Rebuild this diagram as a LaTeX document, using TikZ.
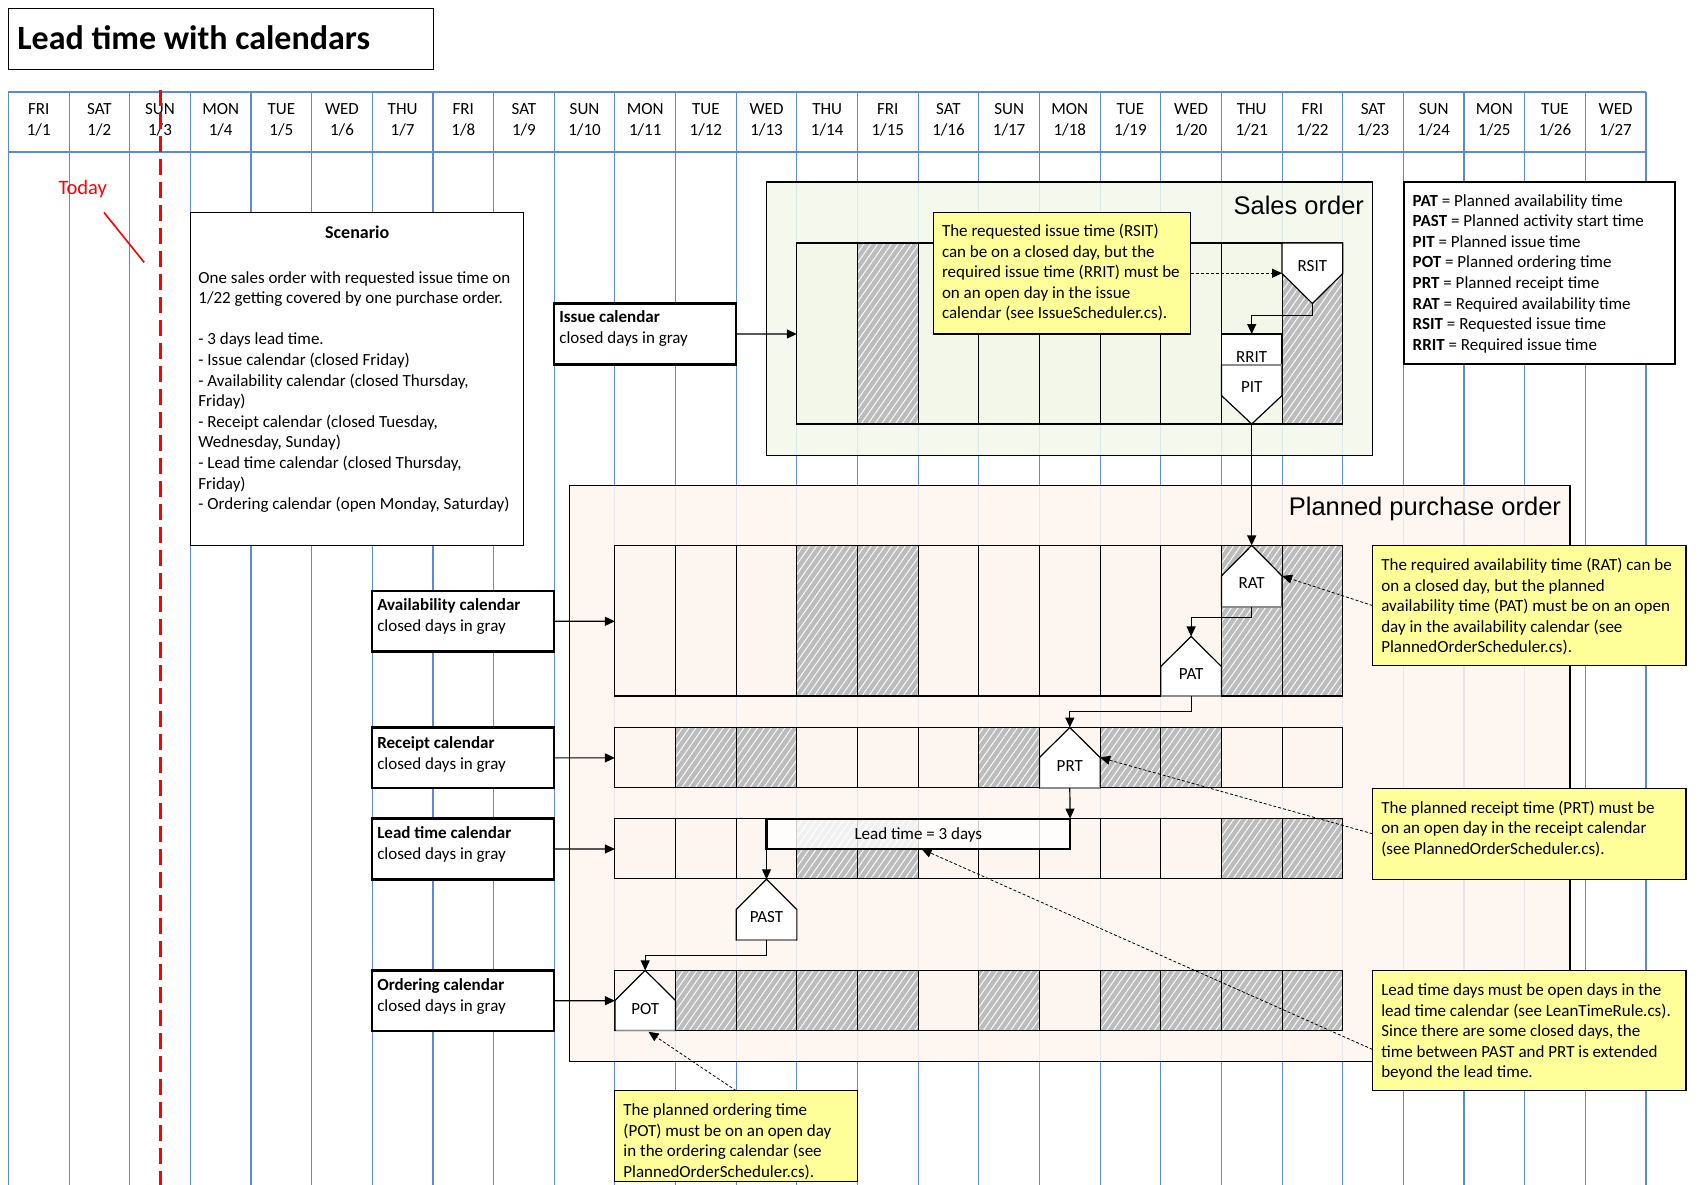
\documentclass[tikz,border=0pt]{standalone}
\usepackage{fontspec}
\setmainfont{Carlito}
\newfontfamily\arialfont{Liberation Sans}
\usetikzlibrary{arrows.meta,patterns.meta}
\definecolor{gridblue}{RGB}{91,139,214}
\definecolor{noteyellow}{RGB}{255,255,153}
\definecolor{hatchgray}{RGB}{188,188,188}
\definecolor{salesgreen}{RGB}{242,247,234}
\definecolor{pofill}{RGB}{253,245,239}
\newcommand\bodyfs{\fontsize{17}{20.6}\selectfont}
\newcommand\boxfs{\fontsize{17}{21}\selectfont}
\newcommand\calrow[6]{%
  \foreach \i in {#4,...,#5} {\fill[#3] ({8.4+60.65*\i},#1) rectangle ({8.4+60.65*(\i+1)},#2);}
  \foreach \i in {#6} {\path[closedcell] ({8.4+60.65*\i},#1) rectangle ({8.4+60.65*(\i+1)},#2);}
  \foreach \i in {#4,...,#5} {\draw[cellline] ({8.4+60.65*\i},#1) rectangle ({8.4+60.65*(\i+1)},#2);}
}
\begin{document}
\begin{tikzpicture}[x=1pt,y=-1pt,
  every node/.style={inner sep=0pt, outer sep=0pt, font=\bodyfs},
  gridline/.style={draw=gridblue, line width=1.1pt},
  cellline/.style={draw=black, line width=1.1pt},
  closedcell/.style={preaction={fill=hatchgray}, pattern={Lines[angle=55,distance=5.6pt,line width=1pt]}, pattern color=white!92!hatchgray},
  conn/.style={draw=black, line width=1.2pt, -{Triangle[length=10pt,width=9pt]}},
  annot/.style={draw=black, line width=0.8pt, dash pattern=on 3pt off 2pt, -{Triangle[length=10pt,width=9pt]}},
  labelbox/.style={draw=black, line width=2.4pt, fill=white, anchor=north west, minimum width=182.1, minimum height=60.7},
  notebox/.style={draw=black, line width=1.2pt, fill=noteyellow, anchor=north west},
  plainbox/.style={draw=black, line width=1.3pt, fill=white, anchor=north west},
  txt/.style={align=left, anchor=north west},
  btxt/.style={align=left, anchor=north west, font=\boxfs},
  tshape/.style={fill=white, draw=black, line width=1.2pt, line join=miter},
  shadowline/.style={draw=black!45, line width=1.8pt},
  framelabel/.style={font=\arialfont\fontsize{25.5}{30}\selectfont, anchor=east}
]
\useasboundingbox (0,0) rectangle (1700,1185);

% ---------- grid ----------
\foreach \i in {0,...,27} { \draw[gridline] ({8.4+60.65*\i},92) -- ({8.4+60.65*\i},1185); }
\draw[gridline] (8.4,92) -- (1646,92);
\draw[gridline] (8.4,152) -- (1646,152);
\foreach \n [count=\i from 0] in {FRI,SAT,SUN,MON,TUE,WED,THU,FRI,SAT,SUN,MON,TUE,WED,THU,FRI,SAT,SUN,MON,TUE,WED,THU,FRI,SAT,SUN,MON,TUE,WED}{
  \pgfmathtruncatemacro\dd{\i+1}
  \node[anchor=base] (day\i) at ({8.4+60.65*(\i+0.5)},115) {\n};
  \node[anchor=base] (date\i) at ({8.4+60.65*(\i+0.5)},135.5) {1/\dd};
}

% ---------- title ----------
\node[plainbox, minimum width=425, minimum height=60.7] (titlebox) at (8.7,8.7) {};
\node[anchor=base west, font=\fontsize{34}{40}\selectfont\bfseries] (title) at (17.3,49.5) {Lead time with calendars};

% ---------- today ----------
\coordinate (todaytop) at (160.1,90);
\coordinate (todaybot) at (160.1,1185);
\draw[red, line width=3pt, dash pattern=on 16pt off 7pt] (todaytop) -- (todaybot);
\node[anchor=base west, text=red, font=\fontsize{20.5}{24}\selectfont] (today) at (58.5,194.5) {Today};
\coordinate (tl1) at (104,212.5);
\coordinate (tl2) at (144.2,262.4);
\draw[red, line width=1.6pt] (tl1) -- (tl2);

% ---------- scenario ----------
\node[plainbox, minimum width=332.9, minimum height=332.9] (scen) at (190.8,212.5) {};
\node[anchor=base, font=\fontsize{18}{22}\selectfont\bfseries] (scent) at (357.25,239) {Scenario};
\node[txt] (scenb) at (198.4,268.7) {\strut One sales order with requested issue time on\\1/22 getting covered by one purchase order.\\[20.6pt]- 3 days lead time.\\- Issue calendar (closed Friday)\\- Availability calendar (closed Thursday,\\Friday)\\- Receipt calendar (closed Tuesday,\\Wednesday, Sunday)\\- Lead time calendar (closed Thursday,\\Friday)\\- Ordering calendar (open Monday, Saturday)};

% ---------- legend ----------
\node[plainbox, minimum width=271, minimum height=182] (legend) at (1404,182) {};
\node[txt] (legendt) at (1412.7,191.7) {\strut\textbf{PAT} = Planned availability time\\\textbf{PAST} = Planned activity start time\\\textbf{PIT} = Planned issue time\\\textbf{POT} = Planned ordering time\\\textbf{PRT} = Planned receipt time\\\textbf{RAT} = Required availability time\\\textbf{RSIT} = Requested issue time\\\textbf{RRIT} = Required issue time};

% ---------- sales order ----------
\node[draw=black, line width=1.3pt, fill=salesgreen, fill opacity=0.86, anchor=north west, minimum width=606.1, minimum height=273.4] (salesframe) at (766.5,182) {};
\node[framelabel] (salest) at (1364,205) {Sales order};
\calrow{243}{424}{salesgreen}{13}{21}{14,21}
\coordinate (salescalw) at (796.85,334);

\node[notebox, minimum width=257, minimum height=121.5] (n1) at (933.5,212.5) {};
\node[txt] (n1t) at (942,222) {\strut The requested issue time (RSIT)\\can be on a closed day, but the\\required issue time (RRIT) must be\\on an open day in the issue\\calendar (see IssueScheduler.cs).};

% RSIT
\draw[tshape] (1282.05,243) -- (1342.7,243) -- (1342.7,273.5) -- (1312.4,303.5) -- (1282.05,273.5) -- cycle;
\node[anchor=base] (rsit) at (1312.4,271.1) {RSIT};
\coordinate (rsittip) at (1312.4,303.5);
\coordinate (rsitw) at (1282.05,273.25);
% RRIT + PIT
\draw[tshape] (1221.4,365) -- (1282.05,365) -- (1282.05,395.5) -- (1251.7,424) -- (1221.4,395.5) -- cycle;
\draw[tshape] (1221.4,334) rectangle (1282.05,365);
\draw[shadowline] (1222,365) -- (1281.5,365);
\node[anchor=base] (rrit) at (1251.7,362) {RRIT};
\node[anchor=base] (pit) at (1251.7,392.2) {PIT};
\coordinate (rritn) at (1251.7,334);
\coordinate (pittip) at (1251.7,424);

% issue calendar label
\node[labelbox] (issuebox) at (554,303.6) {};
\node[btxt] (issuet) at (559.4,307.7) {\strut\textbf{Issue calendar}\\closed days in gray};

% ---------- planned purchase order ----------
\node[draw=black, line width=1.3pt, fill=pofill, fill opacity=0.86, anchor=north west, minimum width=1000.8, minimum height=575.7] (poframe) at (569.2,485.7) {};
\node[framelabel] (pot) at (1561,508.5) {Planned purchase order};

\calrow{545.4}{696}{pofill}{10}{21}{13,14,20,21}
\calrow{727.5}{787.5}{pofill}{10}{21}{11,12,16,18,19}
\calrow{818.6}{878.5}{pofill}{10}{21}{13,14,20,21}
\calrow{970.4}{1030.5}{pofill}{10}{21}{11,12,13,14,16,18,19,20,21}
\coordinate (availw) at (614.9,621.3);
\coordinate (receiptw) at (614.9,757.9);
\coordinate (leadw) at (614.9,849);
\coordinate (orderw) at (614.9,1000.7);

% label boxes
\node[labelbox] (availbox) at (371.9,590.9) {};
\node[btxt] (availt) at (377.3,596.1) {\strut\textbf{Availability calendar}\\closed days in gray};
\node[labelbox] (receiptbox) at (371.9,727.5) {};
\node[btxt] (receiptt) at (377.3,733.8) {\strut\textbf{Receipt calendar}\\closed days in gray};
\node[labelbox] (leadbox) at (371.9,818.6) {};
\node[btxt] (leadt) at (377.3,823.8) {\strut\textbf{Lead time calendar}\\closed days in gray};
\node[labelbox] (orderbox) at (371.9,970.4) {};
\node[btxt] (ordert) at (377.3,975.6) {\strut\textbf{Ordering calendar}\\closed days in gray};

% lead time bar
\node[draw=black, line width=2.2pt, fill=white, fill opacity=0.8, anchor=north west, minimum width=303.6, minimum height=30.4] (leadbar) at (766.5,818.6) {};
\node[anchor=base] (leadbart) at (918.3,839.2) {Lead time = 3 days};
\coordinate (leadbarb) at (921.6,849);

% RAT
\draw[tshape] (1251.7,545.4) -- (1282.05,576) -- (1282.05,607) -- (1221.4,607) -- (1221.4,576) -- cycle;
\draw[shadowline] (1222,607) -- (1281.5,607);
\node[anchor=base] (rat) at (1251.7,588.8) {RAT};
\coordinate (rattip) at (1251.7,545.4);
\coordinate (ratbot) at (1251.7,607);
\coordinate (rate) at (1282.05,576);
% PAT
\draw[tshape] (1191.1,636.4) -- (1221.4,666.5) -- (1221.4,696) -- (1160.75,696) -- (1160.75,666.5) -- cycle;
\draw[shadowline] (1161.3,696) -- (1220.8,696);
\node[anchor=base] (pat) at (1191.1,679.8) {PAT};
\coordinate (pattip) at (1191.1,636.4);
\coordinate (patbot) at (1191.1,696);
% PRT
\draw[tshape] (1069.8,727.5) -- (1100.1,757.5) -- (1100.1,788) -- (1039.45,788) -- (1039.45,757.5) -- cycle;
\draw[shadowline] (1040,788) -- (1099.5,788);
\node[anchor=base] (prt) at (1069.8,771.2) {PRT};
\coordinate (prttip) at (1069.8,727.5);
\coordinate (prtbot) at (1069.8,788);
\coordinate (prte) at (1100.1,757.5);
% PAST
\draw[tshape] (766.5,879.3) -- (796.85,909.5) -- (796.85,940) -- (736.2,940) -- (736.2,909.5) -- cycle;
\draw[shadowline] (736.8,940) -- (796.3,940);
\node[anchor=base] (past) at (766.5,922.8) {PAST};
\coordinate (pasttip) at (766.5,879.3);
\coordinate (pastbot) at (766.5,940);
% POT
\draw[tshape] (645.2,970.4) -- (675.55,1000.5) -- (675.55,1030.5) -- (614.9,1030.5) -- (614.9,1000.5) -- cycle;
\draw[shadowline] (615.5,1030.5) -- (675,1030.5);
\node[anchor=base] (potl) at (645.2,1014.2) {POT};
\coordinate (pottip) at (645.2,970.4);
\coordinate (potb) at (648.5,1031.8);

% ---------- notes right / bottom ----------
\node[notebox, minimum width=313.4, minimum height=120.3] (ratnote) at (1372.6,545.4) {};
\node[txt] (ratnotet) at (1381.3,556) {\strut The required availability time (RAT) can be\\on a closed day, but the planned\\availability time (PAT) must be on an open\\day in the availability calendar (see\\PlannedOrderScheduler.cs).};
\node[notebox, minimum width=313.4, minimum height=91.1] (prtnote) at (1372.6,788.2) {};
\node[txt] (prtnotet) at (1381.3,798.8) {\strut The planned receipt time (PRT) must be\\on an open day in the receipt calendar\\(see PlannedOrderScheduler.cs).};
\node[notebox, minimum width=313.4, minimum height=120.3] (leadnote) at (1372.6,970.4) {};
\node[txt] (leadnotet) at (1381.3,981) {\strut Lead time days must be open days in the\\lead time calendar (see LeanTimeRule.cs).\\Since there are some closed days, the\\time between PAST and PRT is extended\\beyond the lead time.};
\coordinate (leadnotew) at (1372.6,1049.5);
\node[notebox, minimum width=242.9, minimum height=91.1] (potnote) at (614.7,1090.7) {};
\node[txt] (potnotet) at (623.4,1101.3) {\strut The planned ordering time\\(POT) must be on an open day\\in the ordering calendar (see\\PlannedOrderScheduler.cs).};

% ---------- connectors ----------
\draw[conn] (issuebox.east) -- (salescalw);
\draw[conn] (availbox.east) -- (availw);
\draw[conn] (receiptbox.east) -- (receiptw);
\draw[conn] (leadbox.east) -- (leadw);
\draw[conn] (orderbox.east) -- (orderw);

\draw[conn] (rsittip) -- ++(0,11.8) -| (rritn);
\draw[conn] (pittip) -- (rattip);
\draw[conn] (ratbot) -- ++(0,10.5) -| (pattip);
\draw[conn] (patbot) -- ++(0,15.5) -| (prttip);
\draw[conn] (prtbot) -- (leadbar.north east);
\draw[conn] (leadbar.south west) -- (pasttip);
\draw[conn] (pastbot) -- ++(0,15.3) -| (pottip);

\draw[annot] (n1.east) -- (n1.east -| rsitw);
\draw[annot] (ratnote.west) -- (rate);
\draw[annot] (prtnote.west) -- (prte);
\draw[annot] (leadnotew) -- (leadbarb);
\draw[annot] (potnote.north) -- (potb);
\end{tikzpicture}
\end{document}
